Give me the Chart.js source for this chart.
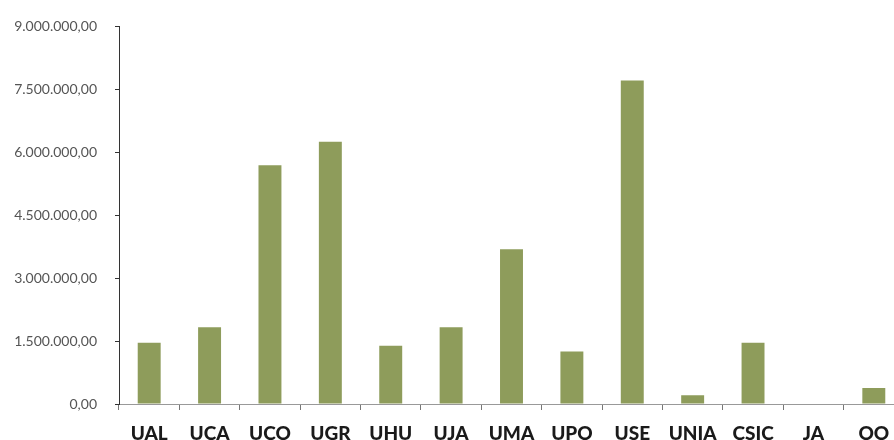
<!DOCTYPE html>
<html>
<head>
<meta charset="utf-8">
<script src="https://cdn.jsdelivr.net/npm/chart.js@4"></script>
<style>
    html, body { margin: 0; padding: 0; background: #fff; overflow: hidden; }
    #wrap { width: 894px; height: 440px; overflow: hidden; }
</style>
</head>
<body>
<div id="wrap"><canvas id="barChart" width="904" height="440"></canvas></div>
<script>
const categories = ["UAL", "UCA", "UCO", "UGR", "UHU", "UJA", "UMA", "UPO", "USE", "UNIA", "CSIC", "JA", "OO"];
const amounts = [1460000, 1830000, 5690000, 6250000, 1390000, 1830000, 3690000, 1250000, 7710000, 210000, 1460000, 0, 380000];
const yTicks = [0, 1500000, 3000000, 4500000, 6000000, 7500000, 9000000];

function euro(value) {
    return Number(value).toLocaleString("de-DE", { minimumFractionDigits: 2, maximumFractionDigits: 2 });
}

const barCtx = document.getElementById("barChart");

new Chart(barCtx, {
    type: "bar",
    data: {
        labels: categories,
        datasets: [{
            data: amounts,
            backgroundColor: "#8e9c5b",
            barPercentage: 0.76,
            categoryPercentage: 0.5,
        }],
    },
    options: {
        responsive: false,
        animation: false,
        layout: { padding: { top: 21, right: 0, bottom: 0, left: 0 } },
        plugins: { legend: { display: false }, tooltip: { enabled: false } },
        scales: {
            x: {
                afterFit: (scale) => { scale.height = 36; },
                grid: { drawOnChartArea: false, drawTicks: true, tickLength: 6, color: "#777" },
                border: { color: "#999", width: 1 },
                ticks: {
                    color: "#1a1a1a",
                    padding: 12,
                    maxRotation: 0,
                    autoSkip: false,
                    font: { family: "Lato", size: 19, weight: 900 },
                },
            },
            y: {
                min: 0,
                max: 9000000,
                afterFit: (scale) => { scale.width = 119; },
                afterBuildTicks: (scale) => { scale.ticks = yTicks.map((v) => ({ value: v })); },
                grid: { drawOnChartArea: false, drawTicks: true, tickLength: 4, color: "#333" },
                border: { color: "#333", width: 1 },
                ticks: {
                    color: "#555",
                    padding: 18,
                    font: { family: "Lato", size: 14 },
                    callback: (v) => euro(v),
                },
            },
        },
    },
});
</script>
</body>
</html>
